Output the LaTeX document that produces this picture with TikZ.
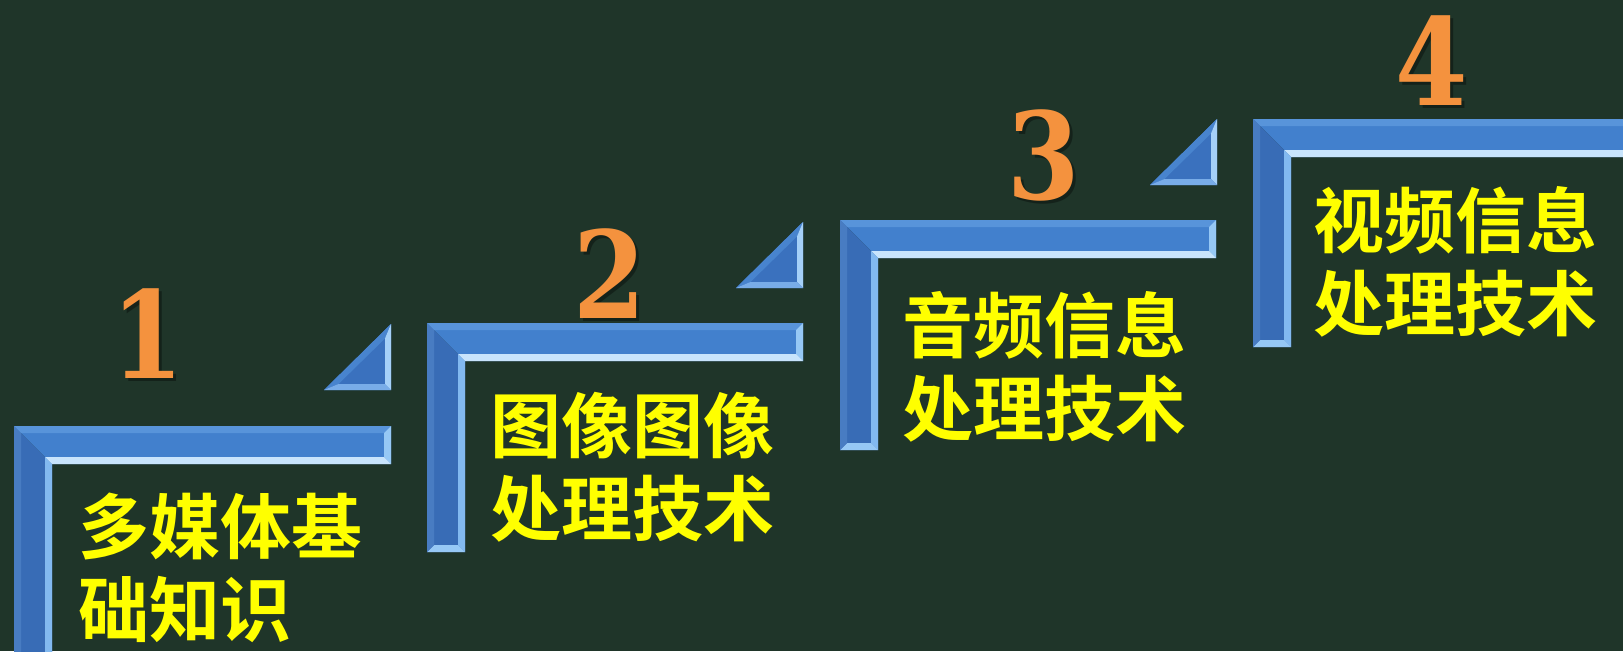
\documentclass[tikz,border=0pt]{standalone}
\usepackage{fontspec}
\newfontfamily\cjk{Noto Sans CJK SC}[UprightFont=* Medium, BoldFont=* Bold]
\newfontfamily\digitfont{DejaVu Serif}
\definecolor{bg}{RGB}{31,53,41}
\definecolor{cjkyellow}{RGB}{255,255,0}
\definecolor{numorange}{RGB}{244,146,62}
\definecolor{barTop}{RGB}{66,128,205}
\definecolor{barSide}{RGB}{56,108,182}
\definecolor{facetTop}{RGB}{88,148,218}
\definecolor{facetEnd}{RGB}{150,200,245}
\definecolor{facetInH}{RGB}{200,228,252}
\definecolor{facetInV}{RGB}{130,185,240}
\definecolor{facetLeft}{RGB}{72,124,194}
\definecolor{triMain}{RGB}{58,113,190}
\definecolor{triHyp}{RGB}{72,132,206}
\definecolor{triRight}{RGB}{165,208,248}
\definecolor{triBottom}{RGB}{120,172,232}
\newcommand\stairL[4]{%
  \fill[barTop] (#1,#2) -- (#3,#2) -- (#3,#2+38) -- (#1+38,#2+38) -- cycle;
  \fill[barSide] (#1,#2) -- (#1+38,#2+38) -- (#1+38,#4) -- (#1,#4) -- cycle;
  \fill[facetTop] (#1,#2) -- (#3,#2) -- (#3-7,#2+7) -- (#1+7,#2+7) -- cycle;
  \fill[facetEnd] (#3,#2) -- (#3,#2+38) -- (#3-7,#2+31) -- (#3-7,#2+7) -- cycle;
  \fill[facetInH] (#3,#2+38) -- (#1+38,#2+38) -- (#1+31,#2+31) -- (#3-7,#2+31) -- cycle;
  \fill[facetInV] (#1+38,#2+38) -- (#1+38,#4) -- (#1+31,#4-7) -- (#1+31,#2+31) -- cycle;
  \fill[facetEnd] (#1+38,#4) -- (#1,#4) -- (#1+7,#4-7) -- (#1+31,#4-7) -- cycle;
  \fill[facetLeft] (#1,#4) -- (#1,#2) -- (#1+7,#2+7) -- (#1+7,#4-7) -- cycle;
}
\newcommand\stairT[2]{% right x, top y
  \fill[triMain] (#1,#2) -- (#1,#2+66) -- (#1-67,#2+66) -- cycle;
  \fill[triHyp] (#1,#2) -- (#1-67,#2+66) -- (#1-52.5,#2+60) -- (#1-6,#2+14.5) -- cycle;
  \fill[triRight] (#1,#2) -- (#1,#2+66) -- (#1-6,#2+60) -- (#1-6,#2+14.5) -- cycle;
  \fill[triBottom] (#1,#2+66) -- (#1-67,#2+66) -- (#1-52.5,#2+60) -- (#1-6,#2+60) -- cycle;
}
\begin{document}
\begin{tikzpicture}[x=1pt,y=-1pt,
  cjktext/.style={anchor=base west, inner sep=0pt, text=cjkyellow,
    font=\cjk\bfseries\fontsize{71}{83}\selectfont},
  numtext/.style={anchor=base, inner sep=0pt, text=numorange, xscale=0.86,
    font=\digitfont\bfseries\fontsize{121}{121}\selectfont},
  numshadow/.style={numtext, text=black, opacity=0.35}]
\fill[bg] (0,0) rectangle (1623,651);
\useasboundingbox (0,0) rectangle (1623,651);
% brackets (steps)
\stairL{14}{426}{391}{670}
\stairL{427}{323}{803}{552}
\stairL{840}{220}{1216}{450}
\stairL{1253}{119}{1640}{347}
% triangles
\stairT{391}{324}
\stairT{803}{222}
\stairT{1217}{119}
% numbers
\node[numshadow] (s1) at (151,381) {1};
\node[numtext] (n1) at (148,378) {1};
\node[numshadow] (s2) at (613,321) {2};
\node[numtext] (n2) at (610,318) {2};
\node[numshadow] (s3) at (1047,202) {3};
\node[numtext] (n3) at (1044,199) {3};
\node[numshadow] (s4) at (1435,108) {4};
\node[numtext] (n4) at (1432,105) {4};
% texts
\node[cjktext] (t1a) at (78,553) {多媒体基};
\node[cjktext] (t1b) at (78,636) {础知识};
\node[cjktext] (t2a) at (490,452) {图像图像};
\node[cjktext] (t2b) at (490,535) {处理技术};
\node[cjktext] (t3a) at (902,352) {音频信息};
\node[cjktext] (t3b) at (902,435) {处理技术};
\node[cjktext] (t4a) at (1313,247) {视频信息};
\node[cjktext] (t4b) at (1313,330) {处理技术};
\end{tikzpicture}
\end{document}
